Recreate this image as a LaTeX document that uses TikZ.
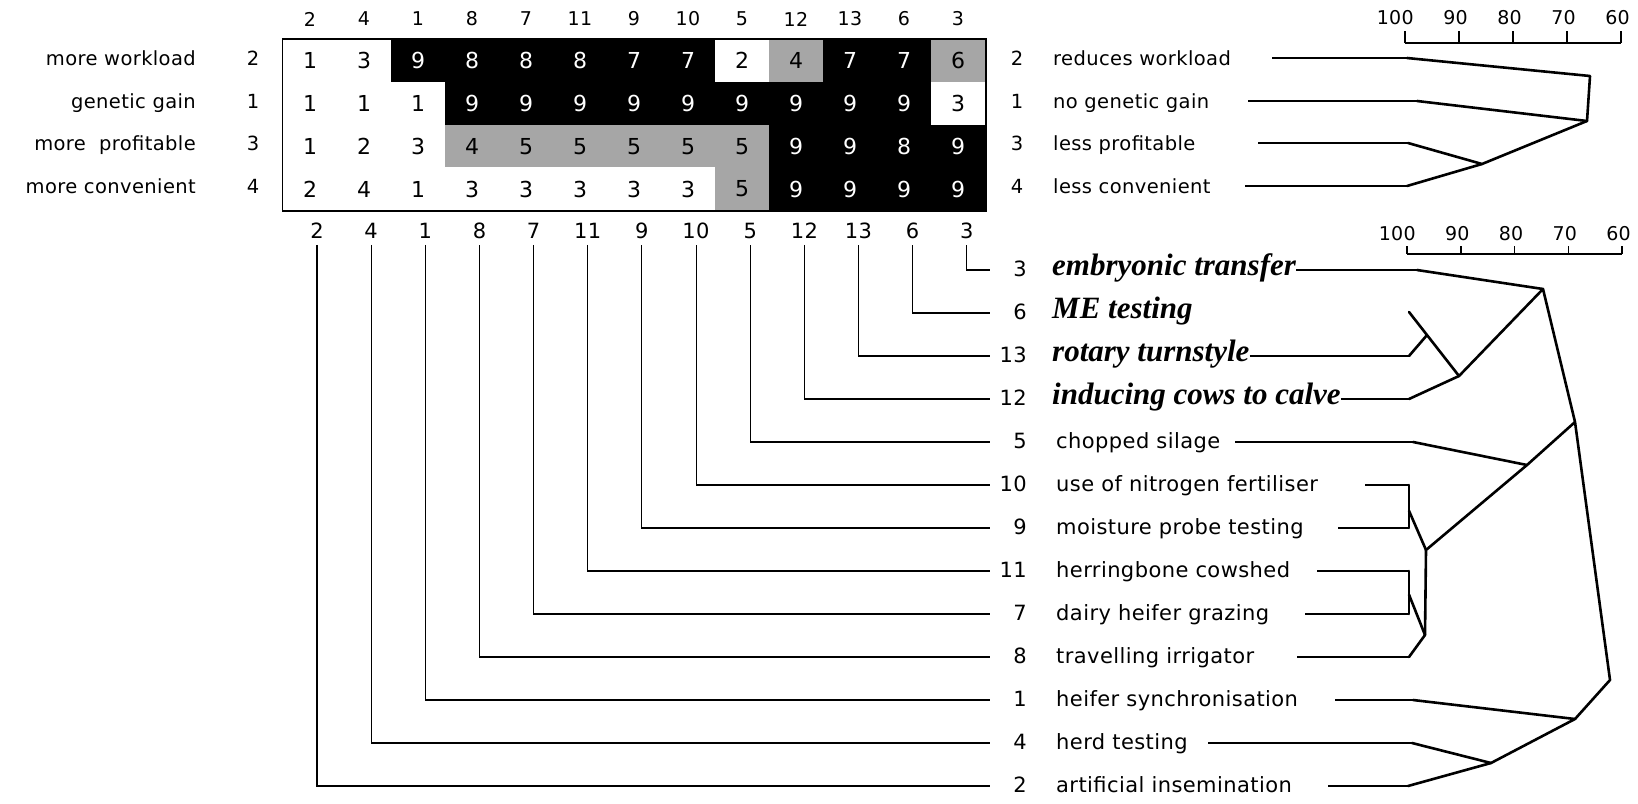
\documentclass[tikz,border=0pt]{standalone}
\usepackage{fontspec}
\setmainfont{DejaVu Sans}[LetterSpace=2]
\newfontfamily\serifrm{Liberation Serif}
\usetikzlibrary{positioning, calc}
\colorlet{cellhi}{black}
\colorlet{cellmid}{black!35}

\begin{document}
\begin{tikzpicture}[
    x=1pt, y=-1pt,
    toplab/.style={font=\fontsize{19.5}{23}\selectfont, inner sep=0pt},
    botlab/.style={font=\fontsize{21}{25}\selectfont, inner sep=0pt},
    itlab/.style={font=\serifrm\bfseries\itshape\fontsize{31}{37}\selectfont, inner sep=0pt},
    colnum/.style={font=\fontsize{19}{23}\selectfont, inner sep=2pt},
    colnumb/.style={font=\fontsize{21}{25}\selectfont, inner sep=2pt},
    cell/.style={minimum width=54.8pt, minimum height=43.4pt, inner sep=0pt, font=\fontsize{22}{26}\selectfont},
    gridbox/.style={draw, line width=1.8pt},
    conn/.style={line width=1.1pt},
    leaf/.style={line width=1.1pt},
    branch/.style={line width=2.6pt, line join=round, line cap=round},
    scalebar/.style={line width=1.5pt},
]
\useasboundingbox (0,0) rectangle (1638,803);

% grid of ratings: value/shade (w, g, b)
\foreach \vals [count=\r from 0] in {
    {1/w,3/w,9/b,8/b,8/b,8/b,7/b,7/b,2/w,4/g,7/b,7/b,6/g},
    {1/w,1/w,1/w,9/b,9/b,9/b,9/b,9/b,9/b,9/b,9/b,9/b,3/w},
    {1/w,2/w,3/w,4/g,5/g,5/g,5/g,5/g,5/g,9/b,9/b,8/b,9/b},
    {2/w,4/w,1/w,3/w,3/w,3/w,3/w,3/w,5/g,9/b,9/b,9/b,9/b}}
  \foreach \v/\s [count=\k from 0] in \vals {
    \if b\s \def\cellfill{cellhi}\def\celltext{white}\else
      \if g\s \def\cellfill{cellmid}\def\celltext{black}\else
        \def\cellfill{white}\def\celltext{black}\fi\fi
    \node[cell, fill=\cellfill, text=\celltext] (c\r-\k) at (310+54*\k, 60.6+42.8*\r) {\v};
  }
\draw[gridbox] (c0-0.north west) rectangle (c3-12.south east);

\foreach \e [count=\k from 0] in {2,4,1,8,7,11,9,10,5,12,13,6,3} {
    \node[colnum]  (tc\k) at (310+54*\k, 19)    {\e};
    \node[colnumb] (bc\k) at (317+54.15*\k, 231) {\e};
}

\foreach \l/\n/\rl [count=\r from 0] in {more workload/2/reduces workload, genetic gain/1/no genetic gain, more\ \ profitable/3/less profitable, more convenient/4/less convenient} {
    \node[toplab, anchor=mid east] (ll\r) at (196, 62.6+42.8*\r)  {\l};
    \node[toplab, anchor=mid]      (ln\r) at (253, 62.6+42.8*\r)  {\n};
    \node[toplab, anchor=mid]      (rn\r) at (1017, 62.6+42.8*\r) {\n};
    \node[toplab, anchor=mid west] (rl\r) at (1053, 62.6+42.8*\r) {\rl};
}

% upper cluster tree
\foreach \xs/\xe/\y [count=\r from 0] in {1272/1407/58, 1248/1417/101, 1258/1408/143, 1245/1407/186} {
    \coordinate (ts\r) at (\xs,\y);
    \coordinate (te\r) at (\xe,\y);
    \draw[leaf] (ts\r) -- (te\r);
}
\coordinate (tk)   at (1590,76);
\coordinate (tm12) at (1587,121);
\coordinate (tm34) at (1482,164);
\draw[branch] (te0) -- (tk) -- (tm12);
\draw[branch] (te1) -- (tm12);
\draw[branch] (te2) -- (tm34) -- (tm12);
\draw[branch] (te3) -- (tm34);

% scales
\foreach \s [count=\j from 0] in {100,90,80,70,60} {
    \coordinate (ka\j) at (1405+54*\j, 43);
    \coordinate (kb\j) at (1407+53.75*\j, 254);
    \draw[scalebar] (ka\j) -- ++(0,-12);
    \draw[scalebar] (kb\j) -- ++(0,-8);
    \node[colnum, inner sep=0pt, anchor=mid east] (sa\j) at (1414+54*\j, 22)     {\s};
    \node[colnum, inner sep=0pt, anchor=mid east] (sb\j) at (1416+53.75*\j, 238) {\s};
}
\draw[scalebar] (ka0) -- (ka4);
\draw[scalebar] (kb0) -- (kb4);

% element labels
\foreach \n/\t [count=\i from 0] in {3/embryonic transfer, 6/ME testing, 13/rotary turnstyle, 12/inducing cows to calve} {
    \node[botlab, anchor=mid east] (bn\i) at (1027, 274+43*\i) {\n};
    \node[itlab,  anchor=mid west] (bl\i) at (1052, 273+43*\i) {\t};
}
\foreach \n/\t [count=\i from 4] in {5/chopped silage, 10/use of nitrogen fertiliser, 9/moisture probe testing, 11/herringbone cowshed, 7/dairy heifer grazing, 8/travelling irrigator, 1/heifer synchronisation, 4/herd testing, 2/artificial insemination} {
    \node[botlab, anchor=mid east] (bn\i) at (1027, 274+43*\i) {\n};
    \node[botlab, anchor=mid west] (bl\i) at (1056, 274+43*\i) {\t};
}

\foreach \i in {0,...,12} {
    \pgfmathtruncatemacro\k{12-\i}
    \coordinate (le\i) at (990, 270+43*\i);
    \draw[conn] ([yshift=-4pt]bc\k.south) |- (le\i);
}

% lower cluster tree
\coordinate (d3)  at (1417,270);
\coordinate (d6)  at (1409,312);
\coordinate (d13) at (1409,356);
\coordinate (d12) at (1409,399);
\draw[leaf] (bl0.east |- d3) -- (d3);
\draw[leaf] (bl2.east |- d13) -- (d13);
\draw[leaf] (bl3.east |- d12) -- (d12);
\foreach \nm/\xs/\xe/\y in {5/1235/1413/442, 10/1365/1409/485, 9/1338/1409/528, 11/1317/1409/571, 7/1305/1409/614, 8/1297/1409/657, 1/1335/1413/700, 4/1208/1412/743, 2/1328/1408/786} {
    \coordinate (s\nm) at (\xs,\y);
    \coordinate (d\nm) at (\xe,\y);
    \draw[leaf] (s\nm) -- (d\nm);
}
\coordinate (m612) at (1459,376);
\coordinate (m613) at ($(d6)!0.36!(m612)$);
\coordinate (mA)   at (1543,289);
\coordinate (mB)   at (1575,422);
\coordinate (mC)   at (1610,680);
\coordinate (m5)   at (1527,465);
\coordinate (mV)   at (1426,550);
\coordinate (mW)   at (1425,635);
\coordinate (m109) at ($(d10)!0.6!(d9)$);
\coordinate (m117) at ($(d11)!0.55!(d7)$);
\coordinate (m1)   at (1575,719);
\coordinate (m42)  at (1491,763);

\draw[branch] (d6) -- (m612) -- (mA) -- (mB) -- (mC) -- (m1) -- (m42);
\draw[branch] (d13) -- (m613);
\draw[branch] (d12) -- (m612);
\draw[branch] (d3) -- (mA);
\draw[branch] (d5) -- (m5);
\draw[branch] (mB) -- (m5) -- (mV) -- (mW);
\draw[branch] (d10) -- (d9);
\draw[branch] (m109) -- (mV);
\draw[branch] (d11) -- (d7);
\draw[branch] (m117) -- (mW);
\draw[branch] (d8) -- (mW);
\draw[branch] (d1) -- (m1);
\draw[branch] (d4) -- (m42);
\draw[branch] (d2) -- (m42);

\end{tikzpicture}
\end{document}
